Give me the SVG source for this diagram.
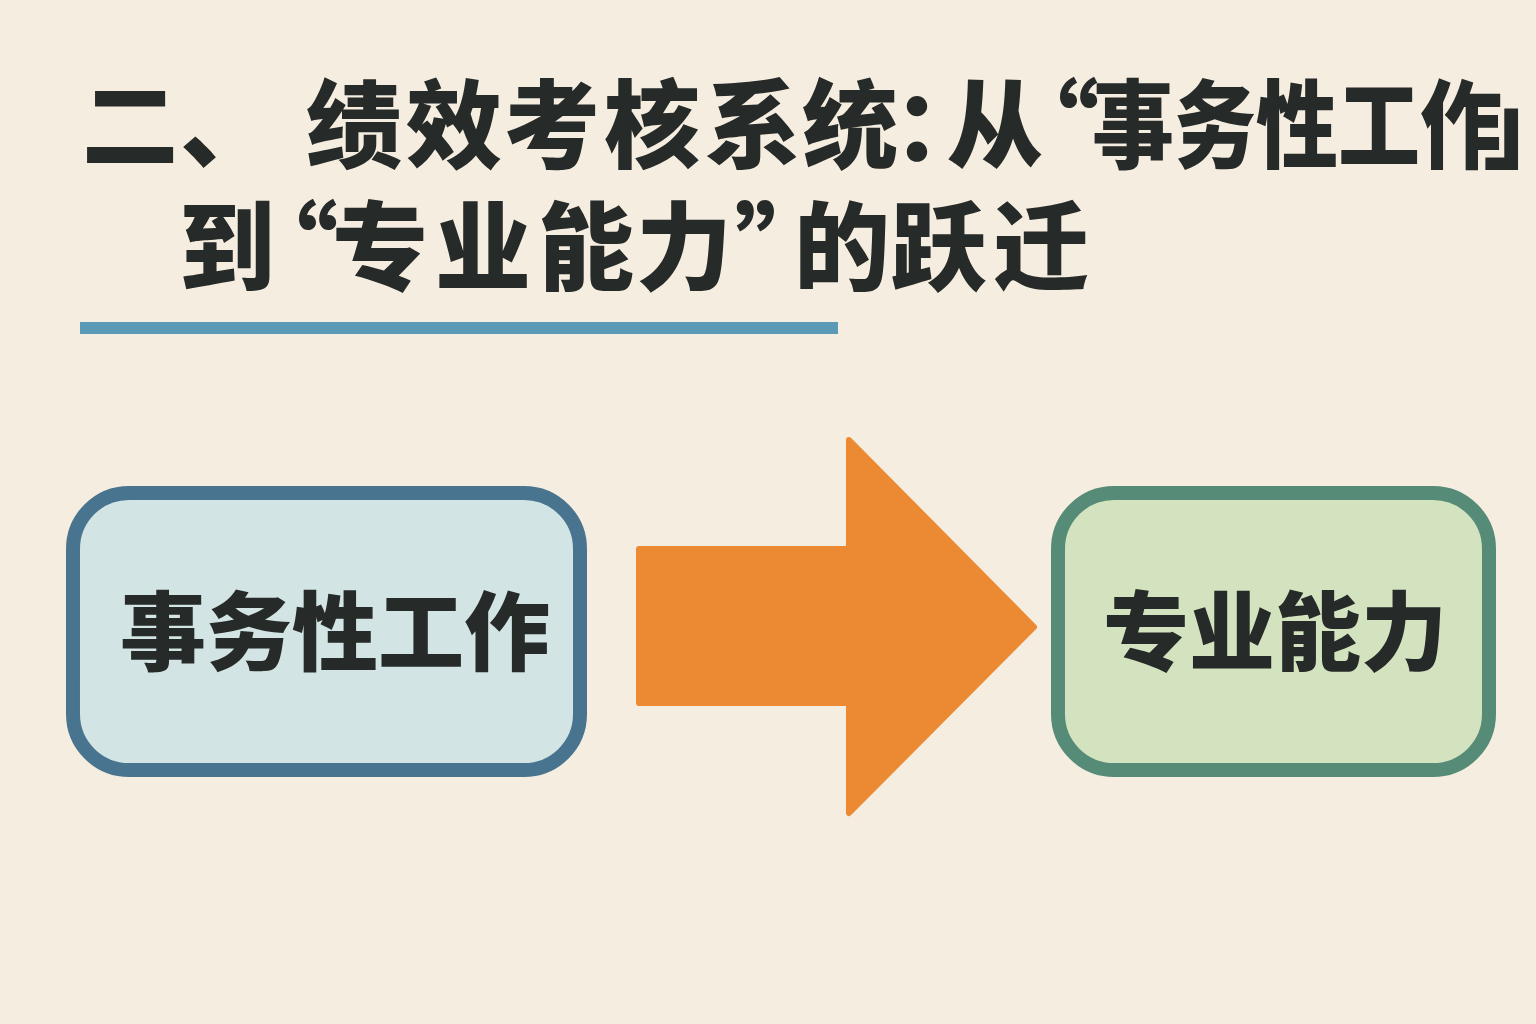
<svg xmlns="http://www.w3.org/2000/svg" width="1536" height="1024" viewBox="0 0 1536 1024">
  <style>
    .t { font-family: "Noto Sans CJK SC", "Noto Sans", sans-serif; font-weight: 900; fill: #262A28; }
    .title { font-size: 96px; }
    .label { font-size: 86px; }
  </style>
  <rect width="1536" height="1024" fill="#F5EDDF"/>
  <g id="title">
    <text class="t title" y="160" x="82 180 306 406 504 604 705 802 893 947 1003">二、绩效考核系统：从“</text>
    <text class="t title" y="160" x="1092" textLength="410" lengthAdjust="spacingAndGlyphs">事务性工作</text>
    <text class="t title" y="160" x="1483">」</text>
    <text class="t title" y="282" x="179 242 332 435 538 636 735 794 891 993">到“专业能力”的跃迁</text>
    <rect x="80" y="322" width="758" height="12" fill="#5A9AB6"/>
  </g>
  <g id="node-left">
    <rect x="73" y="493" width="507" height="277" rx="56" fill="#D3E4E4" stroke="#49748F" stroke-width="14"/>
    <text class="t label" x="335" y="664" text-anchor="middle">事务性工作</text>
  </g>
  <g id="connectors">
    <path d="M639,549 L849,549 L849,440 L1034,627 L849,813 L849,703 L639,703 Z" fill="#EB8A33" stroke="#EB8A33" stroke-width="6" stroke-linejoin="round"/>
  </g>
  <g id="node-right">
    <rect x="1058" y="493" width="431" height="277" rx="56" fill="#D4E3BF" stroke="#568B78" stroke-width="14"/>
    <text class="t label" x="1275" y="664" text-anchor="middle">专业能力</text>
  </g>
</svg>
